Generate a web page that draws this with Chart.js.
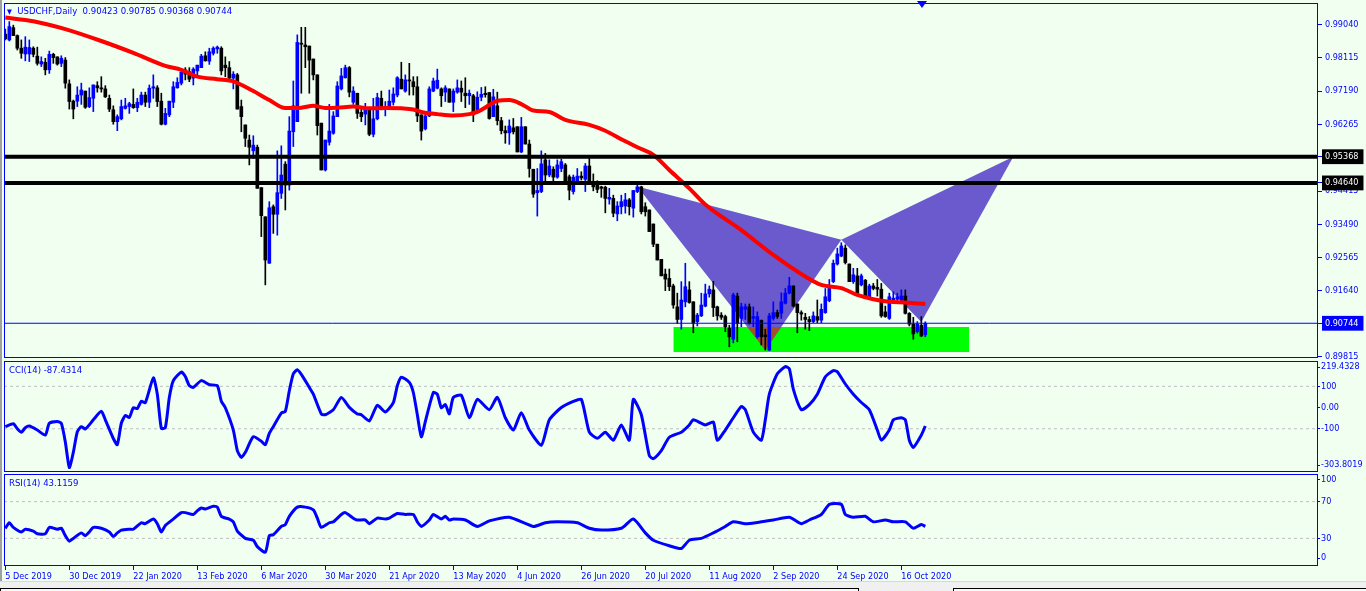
<!DOCTYPE html>
<html>
<head>
<meta charset="utf-8">
<script src="https://cdn.jsdelivr.net/npm/chart.js@4.4.0/dist/chart.umd.min.js"></script>
<style>
  html, body { margin: 0; padding: 0; background: #F0FFF0; }
  #wrap { position: relative; width: 1366px; height: 591px; overflow: hidden; background: #F0FFF0;
          font-family: 'DejaVu Sans Condensed', 'DejaVu Sans', sans-serif; }
  canvas { position: absolute; left: 4px; }
  .lbl { position: absolute; color: #0000FF; font-size: 9.5px; white-space: nowrap; line-height: 12px; }
  #edgeL { position: absolute; left: 0; top: 0; width: 2px; height: 581px; background: #A0A0A0; }
  #shift { position: absolute; left: 917px; top: 1px; width: 0; height: 0;
           border-left: 5px solid transparent; border-right: 5px solid transparent; border-top: 7px solid #0000FF; }
  #tabs { position: absolute; left: 0; top: 581px; width: 1366px; height: 10px; background: #F0F0F0; border-top: 1px solid #D8D8D8; }
  .tab { position: absolute; top: 6px; height: 6px; background: #F8F8F8; border-top: 1px solid #000; border-left: 1px solid #000; border-right: 1px solid #000; }
</style>
</head>
<body>
<div id="wrap">
  <div id="edgeL"></div>
  <canvas id="cMain" width="1362" height="358" style="top:3px"></canvas>
  <canvas id="cCci" width="1362" height="125" style="top:354px"></canvas>
  <canvas id="cRsi" width="1362" height="114" style="top:467px"></canvas>
  <div class="lbl" style="left:7px;top:5px"><span style="font-size:7px">&#9660;</span>&nbsp; USDCHF,Daily&nbsp; 0.90423 0.90785 0.90368 0.90744</div>
  <div class="lbl" style="left:9px;top:364px">CCI(14) -87.4314</div>
  <div class="lbl" style="left:9px;top:477px">RSI(14) 43.1159</div>
  <div id="shift"></div>
  <div id="tabs">
    <div class="tab" style="left:0;width:857px"></div>
    <div class="tab" style="left:953px;width:412px"></div>
  </div>
</div>
<script>
"use strict";

// ---- OHLC, one value per daily bar (bar 0 = 5 Dec 2019) ----
var candleOpen = [
  .9877,.9861,.9895,.9873,.9838,.9822,.9822,.9838,.9816,.9794,.9799,.9778,.9821,.9814,.9796,.9805,.9739,.9691,.9691,.9708,
  .9719,.9676,.9699,.9734,.9728,.9725,.9699,.9667,.9634,.9642,.9671,.9676,.9682,.9673,.9682,.9708,.9688,.9727,.9728,.9691,
  .9627,.9653,.9688,.9728,.9741,.9778,.9773,.9755,.9775,.9784,.9817,.9802,.9824,.9836,.9838,.9791,.9784,.9755,.9764,.9676,
  .9625,.9583,.9553,.9563,.9451,.9370,.9241,.9398,.9377,.9435,.9516,.9458,.9606,.9634,.9852,.9847,.9844,.9808,.9764,.9630,
  .9500,.9577,.9602,.9648,.9725,.9756,.9784,.9688,.9713,.9660,.9655,.9667,.9599,.9642,.9699,.9669,.9676,.9688,.9708,.9752,
  .9719,.9750,.9745,.9731,.9653,.9614,.9650,.9719,.9727,.9725,.9716,.9725,.9688,.9716,.9727,.9713,.9706,.9706,.9667,.9702,
  .9713,.9715,.9648,.9678,.9637,.9609,.9603,.9617,.9620,.9550,.9620,.9572,.9502,.9437,.9440,.9528,.9486,.9502,.9480,.9504,
  .9514,.9481,.9440,.9470,.9483,.9474,.9511,.9464,.9458,.9453,.9452,.9419,.9421,.9378,.9398,.9400,.9417,.9394,.9440,.9453,
  .9398,.9389,.9350,.9294,.9252,.9211,.9199,.9178,.9120,.9085,.9134,.9167,.9134,.9079,.9095,.9122,.9156,.9167,.9120,.9097,
  .9093,.9060,.9030,.9150,.9088,.9113,.9120,.9088,.9037,.9083,.9042,.9000,.9088,.9104,.9102,.9130,.9158,.9178,.9128,.9104,
  .9091,.9085,.9079,.9093,.9083,.9104,.9137,.9190,.9239,.9261,.9283,.9239,.9190,.9206,.9181,.9194,.9147,.9178,.9174,.9169,
  .9106,.9088,.9139,.9141,.9139,.9150,.9102,.9072,.9051,.9069,.90423
];
var candleHigh = [
  .9891,.9912,.9902,.9875,.9861,.9870,.9861,.9842,.9841,.9814,.9810,.9830,.9824,.9814,.9817,.9812,.9750,.9694,.9731,.9741,
  .9719,.9728,.9736,.9745,.9759,.9734,.9708,.9678,.9653,.9694,.9699,.9688,.9725,.9699,.9716,.9716,.9736,.9764,.9734,.9713,
  .9671,.9691,.9745,.9756,.9782,.9784,.9784,.9784,.9791,.9821,.9828,.9838,.9842,.9844,.9842,.9814,.9801,.9773,.9768,.9694,
  .9625,.9597,.9595,.9569,.9451,.9370,.9412,.9403,.9553,.9567,.9523,.9648,.9747,.9875,.9896,.9896,.9844,.9808,.9764,.9630,
  .9583,.9682,.9662,.9745,.9782,.9791,.9787,.9731,.9713,.9671,.9685,.9667,.9699,.9713,.9719,.9690,.9722,.9728,.9759,.9799,
  .9764,.9796,.9759,.9759,.9653,.9662,.9731,.9755,.9780,.9728,.9734,.9725,.9725,.9750,.9747,.9756,.9722,.9710,.9717,.9729,
  .9731,.9715,.9724,.9716,.9646,.9622,.9639,.9643,.9620,.9646,.9620,.9583,.9502,.9504,.9553,.9546,.9528,.9509,.9528,.9530,
  .9518,.9486,.9486,.9504,.9495,.9518,.9532,.9489,.9470,.9455,.9455,.9449,.9430,.9412,.9430,.9435,.9421,.9443,.9458,.9455,
  .9409,.9389,.9350,.9294,.9252,.9225,.9225,.9183,.9158,.9190,.9241,.9190,.9134,.9102,.9158,.9183,.9178,.9191,.9122,.9104,
  .9097,.9069,.9158,.9158,.9130,.9128,.9128,.9120,.9106,.9083,.9058,.9102,.9134,.9111,.9159,.9171,.9202,.9178,.9128,.9109,
  .9102,.9093,.9106,.9139,.9128,.9171,.9196,.9250,.9283,.9298,.9292,.9239,.9227,.9227,.9211,.9196,.9183,.9185,.9196,.9185,
  .9122,.9158,.9162,.9158,.9167,.9167,.9104,.9091,.9079,.9093,.90785
];
var candleLow = [
  .9861,.9858,.9873,.9833,.9810,.9803,.9801,.9814,.9791,.9787,.9764,.9768,.9796,.9791,.9787,.9727,.9669,.9642,.9676,.9682,
  .9671,.9673,.9662,.9716,.9716,.9701,.9662,.9627,.9609,.9639,.9669,.9657,.9671,.9662,.9680,.9676,.9673,.9699,.9676,.9625,
  .9625,.9648,.9673,.9727,.9736,.9750,.9745,.9736,.9759,.9784,.9802,.9793,.9819,.9824,.9764,.9759,.9752,.9725,.9669,.9606,
  .9565,.9514,.9532,.9449,.9315,.9181,.9241,.9324,.9319,.9421,.9389,.9444,.9565,.9634,.9713,.9784,.9713,.9750,.9597,.9500,
  .9497,.9569,.9599,.9648,.9722,.9755,.9703,.9682,.9643,.9634,.9625,.9595,.9592,.9639,.9667,.9650,.9671,.9680,.9703,.9725,
  .9716,.9708,.9708,.9634,.9583,.9611,.9648,.9717,.9725,.9676,.9690,.9688,.9662,.9713,.9690,.9673,.9682,.9634,.9662,.9692,
  .9702,.9641,.9648,.9625,.9600,.9574,.9571,.9600,.9550,.9548,.9572,.9480,.9424,.9372,.9437,.9470,.9481,.9470,.9477,.9495,
  .9467,.9417,.9433,.9464,.9472,.9440,.9463,.9442,.9437,.9424,.9381,.9405,.9370,.9359,.9378,.9380,.9375,.9369,.9437,.9378,
  .9372,.9329,.9287,.9250,.9206,.9165,.9165,.9116,.9074,.9058,.9120,.9130,.9048,.9067,.9093,.9120,.9147,.9093,.9083,.9085,
  .9051,.9009,.9020,.9023,.9065,.9085,.9072,.9065,.9033,.9014,.9000,.8998,.9083,.9088,.9088,.9128,.9156,.9120,.9048,.9083,
  .9058,.9054,.9076,.9076,.9076,.9102,.9134,.9187,.9236,.9259,.9239,.9190,.9185,.9153,.9178,.9147,.9144,.9167,.9150,.9091,
  .9091,.9085,.9134,.9137,.9137,.9100,.9067,.9030,.9047,.9037,.90368
];
var candleClose = [
  .9864,.9898,.9873,.9838,.9824,.9841,.9840,.9821,.9796,.9801,.9778,.9821,.9812,.9794,.9810,.9741,.9690,.9669,.9708,.9722,
  .9674,.9701,.9736,.9728,.9725,.9703,.9669,.9634,.9648,.9676,.9678,.9684,.9673,.9688,.9708,.9688,.9727,.9731,.9690,.9627,
  .9657,.9691,.9731,.9743,.9771,.9766,.9752,.9780,.9791,.9816,.9803,.9828,.9838,.9841,.9775,.9784,.9755,.9766,.9669,.9648,
  .9588,.9563,.9569,.9449,.9373,.9250,.9395,.9377,.9437,.9486,.9458,.9608,.9678,.9854,.9849,.9842,.9805,.9764,.9623,.9500,
  .9583,.9608,.9650,.9733,.9761,.9784,.9716,.9719,.9657,.9648,.9671,.9599,.9642,.9701,.9669,.9676,.9691,.9711,.9756,.9725,
  .9750,.9747,.9731,.9650,.9608,.9650,.9725,.9747,.9749,.9706,.9728,.9688,.9719,.9728,.9716,.9706,.9713,.9653,.9702,.9710,
  .9709,.9643,.9703,.9637,.9609,.9603,.9622,.9606,.9550,.9620,.9572,.9504,.9433,.9443,.9517,.9486,.9511,.9480,.9514,.9523,
  .9470,.9444,.9480,.9483,.9478,.9511,.9464,.9453,.9446,.9449,.9421,.9424,.9380,.9400,.9412,.9417,.9398,.9443,.9453,.9384,
  .9384,.9329,.9294,.9250,.9206,.9197,.9176,.9125,.9085,.9139,.9176,.9132,.9074,.9097,.9125,.9156,.9169,.9118,.9095,.9091,
  .9065,.9037,.9153,.9074,.9120,.9120,.9074,.9093,.9093,.9037,.9037,.9095,.9104,.9093,.9134,.9158,.9178,.9122,.9104,.9100,
  .9085,.9079,.9095,.9083,.9113,.9148,.9171,.9241,.9267,.9289,.9243,.9190,.9209,.9158,.9206,.9148,.9178,.9171,.9169,.9095,
  .9093,.9148,.9144,.9148,.9150,.9102,.9072,.9045,.9072,.9039,.90744
];

// ---- red moving average, read at these bars ----
var maBars   = [0, 7, 15, 24, 32, 40, 44, 48, 53, 57, 62, 66, 70, 74, 77, 80, 83, 87, 91, 95, 99, 102, 104, 108, 112, 116, 118, 121, 123, 126, 129, 132, 136, 140, 146, 150, 154, 158, 162, 166, 171, 175, 184, 192, 200, 204, 209, 213, 217, 221, 225, 230];
var maValues = [.9923,.9913,.9891,.9858,.9825,.9789,.9778,.9759,.9752,.9746,.9719,.9694,.9672,.9673,.9678,.9672,.9673,.9676,.9671,.9672,.9671,.9668,.9661,.9655,.9651,.9655,.9661,.9680,.9692,.9694,.9683,.9665,.9661,.9639,.9625,.9609,.9585,.9563,.9542,.9500,.9449,.9404,.9333,.9264,.9204,.9181,.9172,.9153,.9141,.9134,.9132,.9128];

// ---- objects on the price chart ----
var hLevels   = [0.95368, 0.94640];
var bidPrice  = 0.90744;
var zoneBars  = [167, 241];
var zonePrice = [0.9064, 0.8995];
var patternXAB = [[158, 0.9454], [190, 0.9000], [209, 0.9306]];
var patternBCD = [[209, 0.9306], [229, 0.9078], [252, 0.9537]];
var overlapTri = [[185.5, 0.9064], [194, 0.9064], [190, 0.9000]];

// ---- CCI(14) ----
var cciBars = [0,2,3,4,5,6,8,10,11,13,14,15,16,17,18,19,20,22,24,25,27,28,29,30,31,32,33,34,35,37,38,39,40,41,42,44,45,46,47,49,51,53,54,55,57,58,59,60,62,64,65,66,67,69,70,71,72,73,74,76,77,79,80,82,84,86,88,89,91,93,95,97,98,99,101,102,103,104,105,107,108,109,110,111,
  112,114,116,118,121,123,125,127,129,131,134,136,139,142,144,146,148,150,152,154,156,157,159,161,162,164,166,169,171,172,175,177,178,180,182,184,185,187,189,190,191,193,195,196,197,199,201,203,205,207,208,210,212,214,216,218,219,221,222,224,225,226,227,229,230];
var cciValues = [-90,-76,-100,-117,-95,-87,-106,-130,-74,-66,-74,-162,-283,-211,-114,-90,-101,-58,-18,-58,-146,-175,-74,-37,-47,-1,-5,30,23,140,63,-98,-95,47,127,167,146,103,95,127,108,103,30,-1,-106,-203,-235,-211,-138,-159,-175,-122,-90,-26,-18,79,159,178,156,95,63,-30,-34,-10,47,1,-30,-34,-63,11,-21,23,103,143,119,71,-34,-138,-66,71,63,-1,14,-30,
  48,58,-48,39,-10,48,-48,-106,-24,-106,-178,-58,0,29,39,-116,-145,-116,-154,-82,-154,39,-34,-227,-241,-203,-140,-116,-82,-58,-82,-68,-154,-106,-48,5,-10,-116,-154,-58,63,159,193,183,87,-10,14,63,145,174,169,111,63,24,-10,-106,-154,-106,-58,-48,-58,-154,-188,-130,-87];
var cciLevels = [100, -100];
var cciTickLabels = ['219.4328', '100', '0.00', '-100', '-303.8019'];
var cciMin = -303.8019, cciMax = 219.4328;

// ---- RSI(14) ----
var rsiBars = [0,1,2,4,5,7,8,10,11,13,14,15,16,17,19,20,21,22,24,26,27,28,29,31,32,34,35,37,38,39,40,42,44,45,47,48,49,50,52,53,54,56,57,58,60,62,63,65,66,67,69,70,71,73,75,77,78,79,81,82,84,85,87,88,90,91,93,95,96,98,100,102,103,104,106,107,109,110,111,
  112,115,118,121,126,132,135,138,143,146,149,154,157,160,162,166,169,171,174,177,180,182,185,189,192,196,199,201,204,206,209,210,212,215,217,220,222,225,227,229,230];
var rsiValues = [41,47,42,37,40,38,35,35,42,40,41,33,27,30,36,33,37,42,41,37,32,36,39,40,40,47,46,51,46,37,44,51,58,58,56,60,63,62,65,64,54,51,48,38,30,28,21,15,33,34,43,45,54,64,64,61,52,42,47,48,56,58,52,50,50,46,52,51,52,57,56,56,48,43,50,56,51,54,50,
  51,50,43,49,53,43,47,48,47,41,39,41,51,36,28,22,19,28,30,36,43,48,46,48,50,53,46,50,56,67,67,56,53,54,48,50,48,48,41,45,43];
var rsiLevels = [70, 30];
var rsiTickLabels = ['100', '70', '30', '0'];

// ---- axes ----
var priceTicks = [0.99040, 0.98115, 0.97190, 0.96265, 0.94415, 0.93490, 0.92565, 0.91640, 0.89815];
var xTickBars   = [0, 16, 32, 48, 64, 80, 96, 112, 128, 144, 160, 176, 192, 208, 224];
var xTickLabels = ['5 Dec 2019', '30 Dec 2019', '22 Jan 2020', '13 Feb 2020', '6 Mar 2020', '30 Mar 2020', '21 Apr 2020',
                   '13 May 2020', '4 Jun 2020', '26 Jun 2020', '20 Jul 2020', '11 Aug 2020', '2 Sep 2020', '24 Sep 2020', '16 Oct 2020'];

var X_MIN = -0.33, X_MAX = 328.17;
var PRICE_MIN = 0.8978, PRICE_MAX = 0.99635;
var BLUE = '#0000FF';
var FONT = "'DejaVu Sans Condensed', 'DejaVu Sans', sans-serif";
var AXIS_W = 48;

Chart.defaults.elements.point.radius = 0;
Chart.defaults.font.family = FONT;

function pts(bars, vals) {
  return bars.map(function(b, i) { return { x: b, y: vals[i] }; });
}
function poly(list) {
  var p = list.map(function(v) { return { x: v[0], y: v[1] }; });
  p.push({ x: list[0][0], y: list[0][1] });
  return p;
}
function hline(v) {
  return [{ x: X_MIN, y: v }, { x: X_MAX, y: v }];
}

/** blue frame round the plot area */
var framePlugin = {
  id: 'frame',
  afterDraw: function(chart) {
    var a = chart.chartArea, c = chart.ctx;
    c.save();
    c.strokeStyle = BLUE;
    c.lineWidth = 1;
    c.strokeRect(Math.round(a.left) + 0.5, Math.round(a.top) + 0.5, Math.round(a.right - a.left) - 1, Math.round(a.bottom - a.top) - 1);
    c.restore();
  }
};

function yAxisFit(scale) {
  scale.width = AXIS_W;
  scale.paddingTop = 0;
  scale.paddingBottom = 0;
}

function xHidden() {
  return { type: 'linear', min: X_MIN, max: X_MAX, display: false, offset: false };
}

function baseOptions(padding, scales) {
  return {
    responsive: false,
    animation: false,
    devicePixelRatio: 1,
    layout: { padding: padding },
    plugins: { legend: { display: false }, tooltip: { enabled: false } },
    scales: scales
  };
}

// ---------- price panel ----------
var isUp = function(i) { return candleClose[i] >= candleOpen[i]; };
var candleColor = function(ctx) { return isUp(ctx.dataIndex) ? BLUE : '#000000'; };
var marked = { '0.95368': '#000000', '0.94640': '#000000', '0.90744': BLUE };

new Chart(document.getElementById('cMain'), {
  type: 'bar',
  data: {
    datasets: [
      { type: 'line', order: 10, data: [{ x: zoneBars[0], y: zonePrice[0] }, { x: zoneBars[1], y: zonePrice[0] }],
        fill: { value: zonePrice[1] }, backgroundColor: '#00FF00', borderWidth: 0 },
      { type: 'line', order: 9, data: poly(patternXAB), fill: 'shape', backgroundColor: '#6A5ACD', borderWidth: 0 },
      { type: 'line', order: 9, data: poly(patternBCD), fill: 'shape', backgroundColor: '#6A5ACD', borderWidth: 0 },
      { type: 'line', order: 8, data: poly(overlapTri), fill: 'shape', backgroundColor: '#A0522D', borderWidth: 0 },
      { type: 'bar', order: 7, grouped: false, barThickness: 1,
        data: candleLow.map(function(l, i) { return { x: i, y: [l, candleHigh[i]] }; }),
        backgroundColor: candleColor, borderWidth: 0 },
      { type: 'bar', order: 6, grouped: false, barThickness: 3, minBarLength: 1,
        data: candleOpen.map(function(o, i) { return { x: i, y: [o, candleClose[i]] }; }),
        backgroundColor: candleColor, borderWidth: 0 },
      { type: 'line', order: 5, data: pts(maBars, maValues), borderColor: '#FF0000', borderWidth: 4,
        tension: 0.4, cubicInterpolationMode: 'monotone', fill: false },
      { type: 'line', order: 4, data: hline(hLevels[0]), borderColor: '#000000', borderWidth: 4, fill: false },
      { type: 'line', order: 4, data: hline(hLevels[1]), borderColor: '#000000', borderWidth: 4, fill: false },
      { type: 'line', order: 3, data: hline(bidPrice), borderColor: BLUE, borderWidth: 1, fill: false }
    ]
  },
  options: baseOptions({ top: 0, bottom: 3, left: 0, right: 0 }, {
    x: xHidden(),
    y: {
      position: 'right', min: PRICE_MIN, max: PRICE_MAX,
      afterFit: yAxisFit,
      afterBuildTicks: function(ax) {
        var t = priceTicks.map(function(v) { return { value: v }; });
        t.push({ value: hLevels[0] }, { value: hLevels[1] }, { value: bidPrice });
        ax.ticks = t;
      },
      ticks: {
        autoSkip: false, padding: 3,
        font: { family: FONT, size: 9 },
        color: function(c) { return marked[c.tick.value.toFixed(5)] ? '#FFFFFF' : BLUE; },
        showLabelBackdrop: function(c) { return !!marked[c.tick.value.toFixed(5)]; },
        backdropColor: function(c) { return marked[c.tick.value.toFixed(5)] || 'rgba(0,0,0,0)'; },
        backdropPadding: { top: 2, bottom: 2, left: 3, right: 5 },
        callback: function(v) { return Number(v).toFixed(5); }
      },
      grid: { drawOnChartArea: false, drawTicks: true, tickLength: 4, color: BLUE },
      border: { display: false }
    }
  }),
  plugins: [framePlugin]
});

// ---------- indicator panels ----------
function subAxis(min, max, labels, positions) {
  return {
    position: 'right', min: min, max: max,
    afterFit: yAxisFit,
    afterBuildTicks: function(ax) {
      ax.ticks = positions.map(function(v) { return { value: v }; });
    },
    ticks: { autoSkip: false, padding: 1, color: BLUE, font: { family: FONT, size: 9 },
             callback: function(v, i) { return labels[i]; } },
    grid: { drawOnChartArea: false, drawTicks: true, tickLength: 2, color: BLUE },
    border: { display: false }
  };
}

var cciSpan = cciMax - cciMin;
new Chart(document.getElementById('cCci'), {
  type: 'line',
  data: {
    datasets: [
      { data: pts(cciBars, cciValues), borderColor: BLUE, borderWidth: 3, tension: 0.2, fill: false },
      { data: hline(cciLevels[0]), borderColor: '#C0C0C0', borderWidth: 1, borderDash: [3, 3], fill: false },
      { data: hline(cciLevels[1]), borderColor: '#C0C0C0', borderWidth: 1, borderDash: [3, 3], fill: false }
    ]
  },
  options: baseOptions({ top: 7, bottom: 7, left: 0, right: 0 }, {
    x: xHidden(),
    y: subAxis(cciMin, cciMax, cciTickLabels,
      [cciMax - cciSpan * 6 / 111, 100, 0, -100, cciMin + cciSpan * 7 / 111])
  }),
  plugins: [framePlugin]
});

new Chart(document.getElementById('cRsi'), {
  type: 'line',
  data: {
    datasets: [
      { data: pts(rsiBars, rsiValues), borderColor: BLUE, borderWidth: 3, tension: 0.2, fill: false },
      { data: hline(rsiLevels[0]), borderColor: '#C0C0C0', borderWidth: 1, borderDash: [3, 3], fill: false },
      { data: hline(rsiLevels[1]), borderColor: '#C0C0C0', borderWidth: 1, borderDash: [3, 3], fill: false }
    ]
  },
  options: baseOptions({ top: 7, bottom: 0, left: 0, right: 0 }, {
    x: {
      type: 'linear', min: X_MIN, max: X_MAX, offset: false, position: 'bottom',
      afterBuildTicks: function(ax) { ax.ticks = xTickBars.map(function(v) { return { value: v }; }); },
      afterFit: function(ax) { ax.height = 15; ax.paddingLeft = 0; ax.paddingRight = 0; },
      ticks: { autoSkip: false, maxRotation: 0, minRotation: 0, align: 'start', padding: 1, color: BLUE,
               font: { family: FONT, size: 9 },
               callback: function(v, i) { return xTickLabels[i]; } },
      grid: { drawOnChartArea: false, drawTicks: true, tickLength: 4, color: BLUE },
      border: { display: false }
    },
    y: subAxis(0, 100, rsiTickLabels, [100 - 100 * 6 / 92, 70, 30, 100 * 8 / 92])
  }),
  plugins: [framePlugin]
});
</script>
</body>
</html>
